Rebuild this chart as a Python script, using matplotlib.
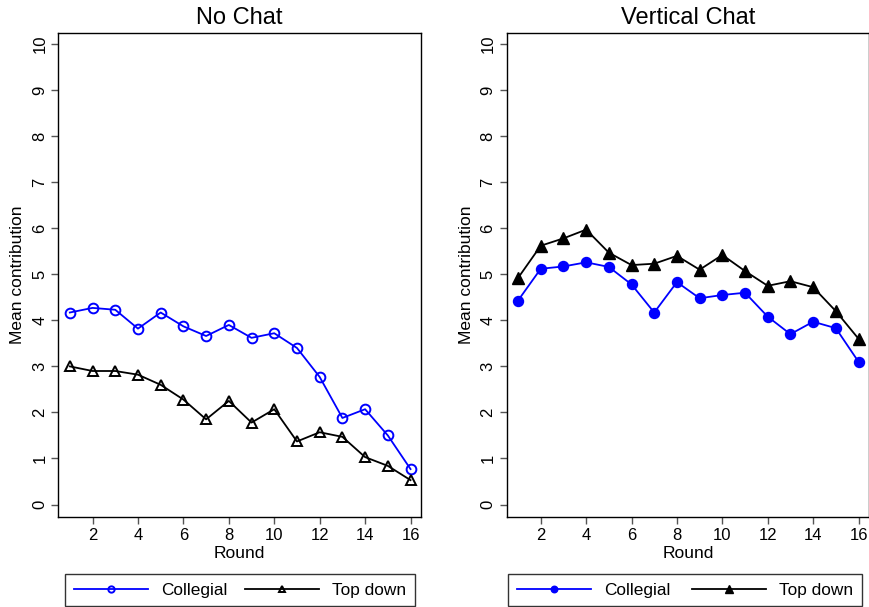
import matplotlib
matplotlib.use("Agg")
import matplotlib.pyplot as plt

rounds = list(range(1, 17))
nochat_collegial = [4.17, 4.27, 4.23, 3.82, 4.17, 3.87, 3.66, 3.90, 3.62, 3.72, 3.40, 2.77, 1.88, 2.07, 1.50, 0.77]
nochat_topdown = [3.00, 2.90, 2.90, 2.82, 2.60, 2.28, 1.85, 2.25, 1.78, 2.07, 1.37, 1.57, 1.47, 1.03, 0.84, 0.53]
vchat_collegial = [4.43, 5.12, 5.17, 5.26, 5.16, 4.78, 4.17, 4.83, 4.48, 4.55, 4.60, 4.08, 3.70, 3.97, 3.83, 3.10]
vchat_topdown = [4.92, 5.62, 5.78, 5.97, 5.47, 5.20, 5.23, 5.40, 5.10, 5.42, 5.07, 4.75, 4.85, 4.72, 4.20, 3.60]
titles = ["No Chat", "Vertical Chat"]
series_labels = ["Collegial", "Top down"]
xticks = list(range(2, 17, 2))
yticks = list(range(0, 11))

plt.rcParams['font.family'] = ['Liberation Sans', 'DejaVu Sans']

fig = plt.figure(figsize=(8.7, 6.07), dpi=100)
ax1 = fig.add_axes([0.0672, 0.1483, 0.4167, 0.7966])
ax2 = fig.add_axes([0.5824, 0.1483, 0.4164, 0.7966])

blue = '#0000ff'
panels = [
    (ax1, nochat_collegial, nochat_topdown, 'none'),
    (ax2, vchat_collegial, vchat_topdown, 'fill'),
]
for i, (ax, col, top, style) in enumerate(panels):
    if style == 'none':
        ax.plot(rounds, col, color=blue, lw=1.3, marker='o', ms=7,
                mfc='none', mec=blue, mew=1.4, label=series_labels[0])
        ax.plot(rounds, top, color='black', lw=1.3, marker='^', ms=7.5,
                mfc='none', mec='black', mew=1.4, label=series_labels[1])
    else:
        ax.plot(rounds, col, color=blue, lw=1.3, marker='o', ms=7.2,
                mfc=blue, mec=blue, label=series_labels[0])
        ax.plot(rounds, top, color='black', lw=1.3, marker='^', ms=8,
                mfc='black', mec='black', label=series_labels[1])
    ax.set_xlim(0.5, 16.46)
    ax.set_ylim(-0.27, 10.23)
    ax.set_xticks(xticks)
    ax.set_yticks(yticks)
    ax.tick_params(axis='both', direction='out', length=5, width=1,
                   color='#555555', labelsize=12, labelcolor='black', pad=3)
    for lab in ax.get_yticklabels():
        lab.set_rotation(90)
        lab.set_va('center')
    for sp in ax.spines.values():
        sp.set_linewidth(1.0)
        sp.set_color('black')
    ax.set_title(titles[i], fontsize=17, pad=7)
    ax.set_xlabel('Round', fontsize=12.5, labelpad=2)
    ax.set_ylabel('Mean contribution', fontsize=12.5, labelpad=5)
    x0 = 0.018 if i == 0 else 0.004
    w = 0.966 if i == 0 else 0.977
    leg = ax.legend(loc='upper left', bbox_to_anchor=(x0, -0.118, w, 0),
                    mode='expand', ncol=2, fontsize=12.4, frameon=True,
                    fancybox=False, edgecolor='black', handlelength=4.3,
                    markerscale=0.65, borderpad=0.5, handletextpad=0.8,
                    borderaxespad=0)
    leg.get_frame().set_linewidth(1.0)

fig.savefig('out.png', dpi=100)
